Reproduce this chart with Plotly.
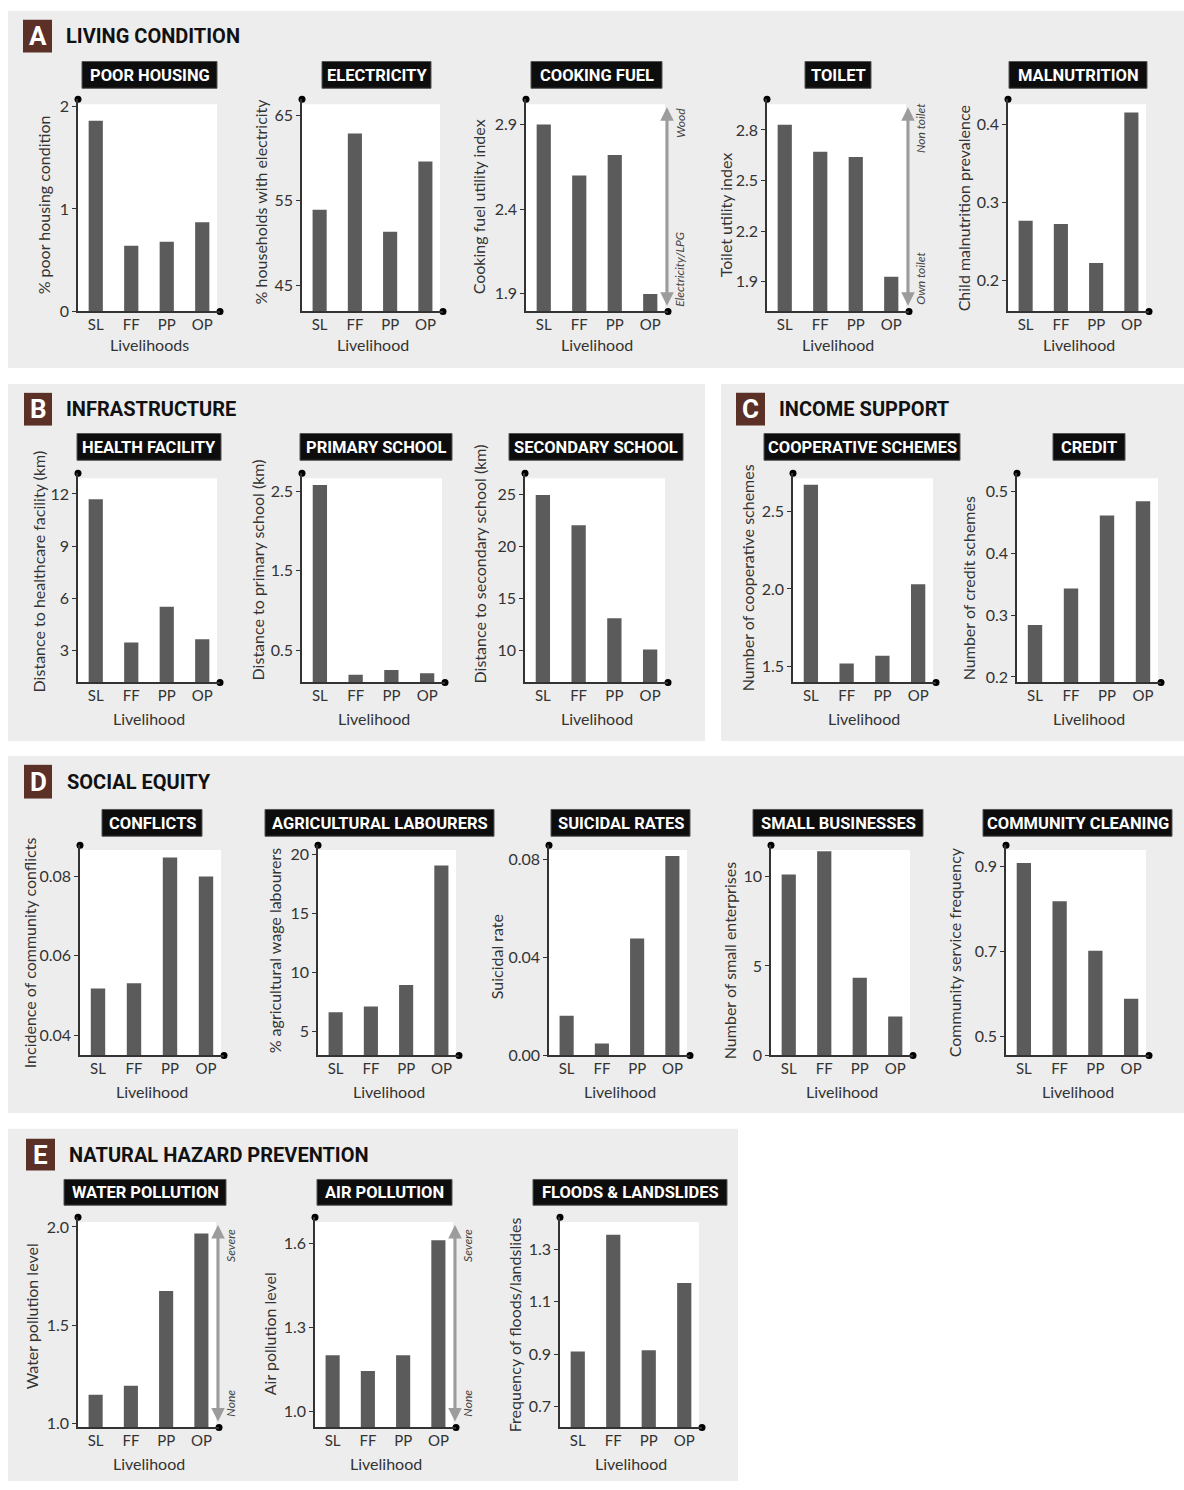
import plotly.graph_objects as go

W, H = 1184, 1490

# ---------------- data ----------------
categories = ["SL", "FF", "PP", "OP"]

poor_housing = [1.86, 0.64, 0.68, 0.87]
electricity = [53.9, 62.9, 51.3, 59.6]
cooking_fuel = [2.90, 2.60, 2.72, 1.90]
toilet = [2.83, 2.67, 2.64, 1.93]
malnutrition = [0.276, 0.272, 0.222, 0.415]
health_facility = [11.7, 3.47, 5.53, 3.66]
primary_school = [2.58, 0.19, 0.25, 0.21]
secondary_school = [24.9, 22.0, 13.1, 10.1]
cooperative_schemes = [2.67, 1.52, 1.57, 2.03]
credit = [0.284, 0.343, 0.461, 0.484]
conflicts = [0.0518, 0.0531, 0.0848, 0.0800]
agri_labourers = [6.65, 7.15, 8.96, 19.07]
suicidal_rates = [0.0162, 0.0049, 0.0477, 0.0813]
small_businesses = [10.1, 11.4, 4.34, 2.18]
community_cleaning = [0.908, 0.818, 0.702, 0.589]
water_pollution = [1.144, 1.19, 1.674, 1.966]
air_pollution = [1.201, 1.145, 1.201, 1.612]
floods_landslides = [0.91, 1.357, 0.915, 1.172]

# ---------------- styling ----------------
COND = "Roboto, Liberation Sans, sans-serif"
BODY = "Lato, Open Sans, Noto Sans, sans-serif"
BAR = "#5b5b5b"
PANEL = "#ededed"
AX = "#333333"
TXT = "#333333"


def fx(p):
    return p / W


def fy(p):
    return 1 - p / H


sections = [
    # letter, title, panel rect, letter box, title x
    ("A", "LIVING CONDITION", (8, 8, 1184, 368), (23, 17, 52, 50), 64),
    ("B", "INFRASTRUCTURE", (8, 384, 705, 744), (24, 393, 52, 426), 64),
    ("C", "INCOME SUPPORT", (721, 384, 1184, 744), (736, 393, 765, 426), 777),
    ("D", "SOCIAL EQUITY", (8, 759, 1184, 1119), (24, 768, 52, 802), 65),
    ("E", "NATURAL HAZARD PREVENTION", (8, 1135, 738, 1490), (26, 1145, 55, 1177), 67),
]

rows = {
    "A": dict(yt=97, yb=311, by=(59, 86), xt=344),
    "B": dict(yt=474, yb=685, by=(434, 461), xt=721),
    "D": dict(yt=849, yb=1061, by=(813, 840), xt=1097),
    "E": dict(yt=1224, yb=1436, by=(1186, 1212), xt=1472),
}

subplots = [
    # row, title, values, xl, xr, lo, hi, tickvals, ticktext, ylabel, ytitle pos, title box x, xlabel, arrow
    ("A", "POOR HOUSING", poor_housing, 78, 220, 0, 2.07, [0, 1, 2], ["0", "1", "2"],
     "% poor housing condition", (43, 203), (82, 217), "Livelihoods", None),
    ("A", "ELECTRICITY", electricity, 302, 443, 41.87, 66.96, [45, 55, 65], ["45", "55", "65"],
     "% households with electricity", (260, 200), (322, 431), "Livelihood", None),
    ("A", "COOKING FUEL", cooking_fuel, 526, 668, 1.796, 3.05, [1.9, 2.4, 2.9], ["1.9", "2.4", "2.9"],
     "Cooking fuel utility index", (478, 206), (531, 662), "Livelihood", ("Wood", "Electricity/LPG", 121, 269)),
    ("A", "TOILET", toilet, 767, 909, 1.724, 2.982, [1.9, 2.2, 2.5, 2.8], ["1.9", "2.2", "2.5", "2.8"],
     "Toilet utility index", (725, 213), (805, 871), "Livelihood", ("Non toilet", "Own toilet", 126, 278)),
    ("A", "MALNUTRITION", malnutrition, 1008, 1149, 0.1596, 0.4322, [0.2, 0.3, 0.4], ["0.2", "0.3", "0.4"],
     "Child malnutrition prevalence", (963, 207), (1009, 1147), "Livelihood", None),
    ("B", "HEALTH FACILITY", health_facility, 78, 220, 1.18, 13.19, [3, 6, 9, 12], ["3", "6", "9", "12"],
     "Distance to healthcare facility (km)", (38, 573), (77, 221), "Livelihood", None),
    ("B", "PRIMARY SCHOOL", primary_school, 302, 445, 0.093, 2.73, [0.5, 1.5, 2.5], ["0.5", "1.5", "2.5"],
     "Distance to primary school (km)", (257, 572), (300, 452), "Livelihood", None),
    ("B", "SECONDARY SCHOOL", secondary_school, 525, 668, 6.95, 27.0, [10, 15, 20, 25], ["10", "15", "20", "25"],
     "Distance to secondary school (km)", (479, 566), (509, 683), "Livelihood", None),
    ("B", "COOPERATIVE SCHEMES", cooperative_schemes, 793, 936, 1.398, 2.745, [1.5, 2.0, 2.5], ["1.5", "2.0", "2.5"],
     "Number of cooperative schemes", (747, 580), (764, 960), "Livelihood", None),
    ("B", "CREDIT", credit, 1017, 1161, 0.191, 0.5295, [0.2, 0.3, 0.4, 0.5], ["0.2", "0.3", "0.4", "0.5"],
     "Number of credit schemes", (968, 590), (1053, 1125), "Livelihood", None),
    ("D", "CONFLICTS", conflicts, 80, 224, 0.0349, 0.0879, [0.04, 0.06, 0.08], ["0.04", "0.06", "0.08"],
     "Incidence of community conflicts", (29, 958), (102, 202), "Livelihood", None),
    ("D", "AGRICULTURAL LABOURERS", agri_labourers, 318, 459, 3.0, 20.8, [5, 10, 15, 20], ["5", "10", "15", "20"],
     "% agricultural wage labourers", (274, 955), (265, 494), "Livelihood", None),
    ("D", "SUICIDAL RATES", suicidal_rates, 549, 690, 0, 0.0857, [0, 0.04, 0.08], ["0.00", "0.04", "0.08"],
     "Suicidal rate", (496, 962), (551, 690), "Livelihood", None),
    ("D", "SMALL BUSINESSES", small_businesses, 771, 913, 0, 11.74, [0, 5, 10], ["0", "5", "10"],
     "Number of small enterprises", (729, 966), (753, 923), "Livelihood", None),
    ("D", "COMMUNITY CLEANING", community_cleaning, 1006, 1149, 0.4556, 0.95, [0.5, 0.7, 0.9], ["0.5", "0.7", "0.9"],
     "Community service frequency", (954, 957), (983, 1172), "Livelihood", None),
    ("E", "WATER POLLUTION", water_pollution, 78, 219, 0.978, 2.05, [1.0, 1.5, 2.0], ["1.0", "1.5", "2.0"],
     "Water pollution level", (31, 1324), (64, 226), "Livelihood", ("Severe", "None", 1253, 1412)),
    ("E", "AIR POLLUTION", air_pollution, 315, 456, 0.943, 1.695, [1.0, 1.3, 1.6], ["1.0", "1.3", "1.6"],
     "Air pollution level", (269, 1342), (317, 452), "Livelihood", ("Severe", "None", 1253, 1412)),
    ("E", "FLOODS & LANDSLIDES", floods_landslides, 560, 702, 0.62, 1.424, [0.7, 0.9, 1.1, 1.3], ["0.7", "0.9", "1.1", "1.3"],
     "Frequency of floods/landslides", (514, 1333), (533, 727), "Livelihood", None),
]

fig = go.Figure()
shapes = []
annotations = []
layout = {}

# section panels and headings
for letter, title, (px0, py0, px1, py1), (lx0, ly0, lx1, ly1), tx in sections:
    shapes.append(dict(type="rect", xref="paper", yref="paper", x0=fx(px0), x1=fx(px1),
                       y0=fy(py1), y1=fy(py0), fillcolor=PANEL, line=dict(width=0), layer="below"))
    shapes.append(dict(type="rect", xref="paper", yref="paper", x0=fx(lx0), x1=fx(lx1),
                       y0=fy(ly1), y1=fy(ly0), fillcolor="#5a3027", line=dict(width=0), layer="below"))
    annotations.append(dict(xref="paper", yref="paper", x=fx((lx0 + lx1) / 2), y=fy((ly0 + ly1) / 2),
                            text="<b>%s</b>" % letter, showarrow=False, xanchor="center", yanchor="middle",
                            font=dict(family=COND, size=26, color="white")))
    annotations.append(dict(xref="paper", yref="paper", x=fx(tx), y=fy((ly0 + ly1) / 2),
                            text="<b>%s</b>" % title, showarrow=False, xanchor="left", yanchor="middle",
                            font=dict(family=COND, size=20, color="#111111")))

for i, (row, title, vals, xl, xr, lo, hi, tv, tt, ylab, (ytx, yty), (bx0, bx1), xlab, arrow) in enumerate(subplots, start=1):
    r = rows[row]
    yt, yb = r["yt"], r["yb"]
    xa = "x" if i == 1 else "x%d" % i
    ya = "y" if i == 1 else "y%d" % i
    xkey = "xaxis" if i == 1 else "xaxis%d" % i
    ykey = "yaxis" if i == 1 else "yaxis%d" % i

    xpos = list(range(len(categories)))
    fig.add_trace(go.Bar(x=xpos, y=vals, width=0.4, marker=dict(color=BAR, line=dict(width=0)),
                         xaxis=xa, yaxis=ya, showlegend=False, hoverinfo="skip"))
    # end-of-axis dots
    fig.add_trace(go.Scatter(x=[-0.5, len(categories) - 0.5], y=[hi, lo], mode="markers",
                             marker=dict(color="black", size=7), cliponaxis=False,
                             xaxis=xa, yaxis=ya, showlegend=False, hoverinfo="skip"))

    layout[xkey] = dict(domain=[fx(xl), fx(xr)], range=[-0.5, len(categories) - 0.5], anchor=ya,
                        showline=True, linecolor=AX, linewidth=1.5, ticks="", showgrid=False,
                        zeroline=False, tickvals=xpos, ticktext=categories, fixedrange=True,
                        ticklabelstandoff=-1,
                        tickfont=dict(family=BODY, size=15, color=TXT))
    layout[ykey] = dict(domain=[fy(yb), fy(yt)], range=[lo, hi], anchor=xa,
                        showline=True, linecolor=AX, linewidth=1.5, ticks="outside", ticklen=4,
                        tickcolor=AX, tickwidth=1, showgrid=False, zeroline=False,
                        tickvals=tv, ticktext=tt, fixedrange=True,
                        tickfont=dict(family=BODY, size=16, color=TXT))

    # white plotting area
    w = xr - xl
    h = yb - yt
    shapes.append(dict(type="rect", xref="%s domain" % xa, yref="%s domain" % ya,
                       x0=0, x1=1 - 3.0 / w, y0=0, y1=1 - 5.0 / h,
                       fillcolor="white", line=dict(width=0), layer="below"))

    # subplot title box
    shapes.append(dict(type="rect", xref="paper", yref="paper", x0=fx(bx0), x1=fx(bx1),
                       y0=fy(r["by"][1]), y1=fy(r["by"][0]), fillcolor="#0d0d0d",
                       line=dict(color="#555555", width=1), layer="below"))
    annotations.append(dict(xref="paper", yref="paper", x=fx((bx0 + bx1) / 2),
                            y=fy((r["by"][0] + r["by"][1]) / 2 + 0.5),
                            text="<b>%s</b>" % title, showarrow=False, xanchor="center", yanchor="middle",
                            font=dict(family=COND, size=16.5, color="white")))

    # axis titles
    annotations.append(dict(xref="paper", yref="paper", x=fx(ytx), y=fy(yty), text=ylab,
                            textangle=-90, showarrow=False, xanchor="center", yanchor="middle",
                            font=dict(family=BODY, size=16, color=TXT)))
    annotations.append(dict(xref="paper", yref="paper", x=fx((xl + xr) / 2), y=fy(r["xt"]), text=xlab,
                            showarrow=False, xanchor="center", yanchor="middle",
                            font=dict(family=BODY, size=16, color=TXT)))

    # range arrows
    if arrow:
        top_lab, bot_lab, top_c, bot_c = arrow
        ax_x = xr - 1
        y_head = yt + 8
        y_tail = yb - 6
        annotations.append(dict(xref="paper", yref="paper", x=fx(ax_x), y=fy(y_head),
                                axref="pixel", ayref="pixel", ax=0, ay=(y_tail - y_head),
                                text="", showarrow=True, arrowhead=2, arrowside="end+start",
                                arrowsize=0.9, arrowwidth=3, arrowcolor="#9c9c9c"))
        for lab, c in ((top_lab, top_c), (bot_lab, bot_c)):
            annotations.append(dict(xref="paper", yref="paper", x=fx(xr + 12), y=fy(c),
                                    text="<i>%s</i>" % lab, textangle=-90, showarrow=False,
                                    xanchor="center", yanchor="middle",
                                    font=dict(family=BODY, size=12, color="#444444")))

fig.update_layout(**layout)
fig.update_layout(width=W, height=H, autosize=False, margin=dict(l=0, r=0, t=0, b=0, pad=0),
                  paper_bgcolor="white", plot_bgcolor="rgba(0,0,0,0)", showlegend=False,
                  shapes=shapes, annotations=annotations, barmode="overlay")

fig.write_html("out.html")
